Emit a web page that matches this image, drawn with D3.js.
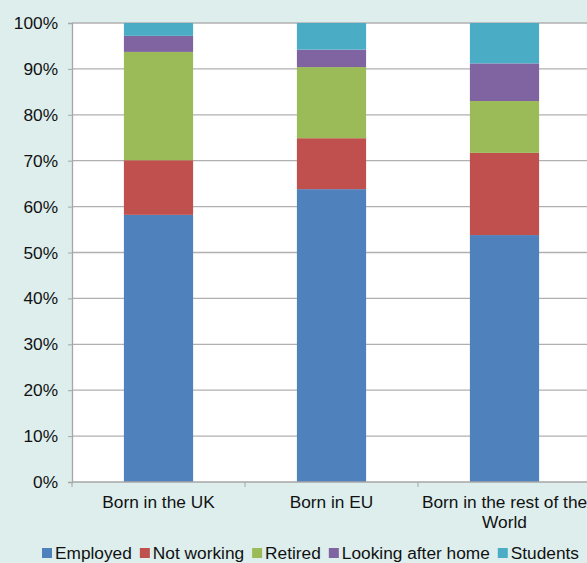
<!DOCTYPE html>
<html>
<head>
<meta charset="utf-8">
<script src="https://cdn.jsdelivr.net/npm/d3@7"></script>
<style>
  body { margin: 0; background: #ddeeed; }
  svg { display: block; font-family: "Liberation Sans", Arial, sans-serif; }
</style>
</head>
<body>
<svg></svg>
<script>
const [WIDTH, HEIGHT] = [587, 563]
const MARGIN = { top: 23, right: -4, bottom: 81, left: 72 }

const categories = ["Born in the UK", "Born in EU", "Born in the rest of the World"]
const seriesNames = ["Employed", "Not working", "Retired", "Looking after home", "Students"]
const colors = ["#4f81bd", "#c0504d", "#9bbb59", "#8064a2", "#4bacc6"]

const employed = [58.2, 63.8, 53.8]
const notWorking = [11.9, 11.1, 17.9]
const retired = [23.6, 15.5, 11.3]
const lookingAfterHome = [3.5, 3.8, 8.2]
const students = [2.8, 5.8, 8.8]

const yTicks = [0, 10, 20, 30, 40, 50, 60, 70, 80, 90, 100]

const rows = categories.map((cat, i) => ({
  category: cat,
  "Employed": employed[i],
  "Not working": notWorking[i],
  "Retired": retired[i],
  "Looking after home": lookingAfterHome[i],
  "Students": students[i]
}))

const FONT = 17.3
const svg = d3.select("svg").attr("width", WIDTH).attr("height", HEIGHT)

const plotW = WIDTH - MARGIN.left - MARGIN.right
const plotH = HEIGHT - MARGIN.top - MARGIN.bottom

const x = d3.scaleBand().domain(categories).range([MARGIN.left, MARGIN.left + plotW]).paddingInner(0.6).paddingOuter(0.3)
const xOuter = d3.scaleBand().domain(categories).range([MARGIN.left, MARGIN.left + plotW])
const y = d3.scaleLinear().domain([0, 100]).range([MARGIN.top + plotH, MARGIN.top])

// plot area
svg.append("rect")
  .attr("x", MARGIN.left).attr("y", MARGIN.top)
  .attr("width", plotW).attr("height", plotH)
  .attr("fill", "white")

// gridlines
svg.append("g")
  .selectAll("line")
  .data(yTicks.slice(1))
  .enter()
  .append("line")
  .attr("x1", MARGIN.left).attr("x2", MARGIN.left + plotW)
  .attr("y1", (d) => y(d)).attr("y2", (d) => y(d))
  .attr("stroke", "#b0b0b0").attr("stroke-width", 1.3)

// stacked bars
const stacked = d3.stack().keys(seriesNames)(rows)
svg.append("g")
  .selectAll("g")
  .data(stacked)
  .enter()
  .append("g")
  .attr("fill", (s, i) => colors[i])
  .selectAll("rect")
  .data((s) => s)
  .enter()
  .append("rect")
  .attr("x", (d) => x(d.data.category))
  .attr("width", x.bandwidth())
  .attr("y", (d) => y(d[1]))
  .attr("height", (d) => y(d[0]) - y(d[1]))

// y axis
const yAxis = svg.append("g")
  .attr("transform", `translate(${MARGIN.left},0)`)
  .call(d3.axisLeft(y).tickValues(yTicks).tickFormat((d) => d + "%").tickSizeOuter(0).tickSize(4).tickPadding(10))
yAxis.select(".domain").attr("stroke", "#a6a6a6").attr("stroke-width", 1.3)
yAxis.selectAll(".tick line").attr("stroke", "#a6a6a6")
yAxis.selectAll("text").attr("font-size", FONT).attr("fill", "#111")

// x axis
const xAxisG = svg.append("g").attr("transform", `translate(0,${MARGIN.top + plotH})`)
xAxisG.append("line")
  .attr("x1", MARGIN.left).attr("x2", MARGIN.left + plotW)
  .attr("stroke", "#a6a6a6").attr("stroke-width", 1.3)
xAxisG.selectAll(".xtick")
  .data(categories.map((c) => xOuter(c)).concat([MARGIN.left + plotW]))
  .enter()
  .append("line")
  .attr("x1", (d) => d).attr("x2", (d) => d)
  .attr("y1", 0).attr("y2", 5)
  .attr("stroke", "#a6a6a6")

const labelLines = [["Born in the UK"], ["Born in EU"], ["Born in the rest of the", "World"]]
xAxisG.selectAll(".xlabel")
  .data(categories)
  .enter()
  .append("text")
  .attr("text-anchor", "middle")
  .attr("font-size", FONT)
  .attr("fill", "#111")
  .attr("x", (c) => xOuter(c) + xOuter.bandwidth() / 2)
  .attr("y", 26)
  .each(function (c, i) {
    d3.select(this).selectAll("tspan")
      .data(labelLines[i])
      .enter()
      .append("tspan")
      .attr("x", xOuter(c) + xOuter.bandwidth() / 2)
      .attr("dy", (t, j) => (j === 0 ? 0 : 20))
      .text((t) => t)
  })

// legend
const legend = svg.append("g").attr("transform", "translate(0,559)")
let lx = 42
seriesNames.forEach((name, i) => {
  legend.append("rect")
    .attr("x", lx).attr("y", -11).attr("width", 10).attr("height", 10)
    .attr("fill", colors[i])
  const t = legend.append("text")
    .attr("x", lx + 13).attr("y", 0)
    .attr("font-size", FONT).attr("fill", "#111")
    .text(name)
  lx += 13 + t.node().getComputedTextLength() + 8
})
</script>
</body>
</html>
